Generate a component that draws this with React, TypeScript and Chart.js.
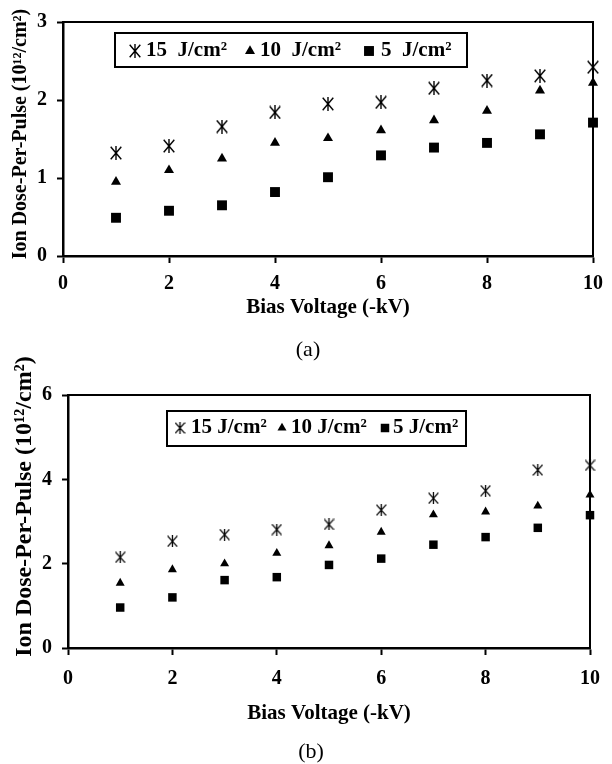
import React, { useEffect, useRef } from 'react';
import { Chart, registerables } from 'chart.js';

Chart.register(...registerables);

// ---------------- data ----------------
const biasVoltage = [1, 2, 3, 4, 5, 6, 7, 8, 9, 10];

const doseA15 = [1.32, 1.41, 1.66, 1.84, 1.95, 1.97, 2.15, 2.25, 2.31, 2.42];
const doseA10 = [0.95, 1.10, 1.25, 1.45, 1.51, 1.61, 1.74, 1.86, 2.12, 2.22];
const doseA5 = [0.49, 0.58, 0.65, 0.82, 1.01, 1.29, 1.39, 1.45, 1.56, 1.71];

const doseB15 = [2.15, 2.53, 2.69, 2.81, 2.93, 3.27, 3.55, 3.73, 4.22, 4.33];
const doseB10 = [1.54, 1.86, 2.00, 2.25, 2.43, 2.75, 3.16, 3.23, 3.37, 3.63];
const doseB5 = [0.96, 1.20, 1.61, 1.68, 1.97, 2.12, 2.45, 2.63, 2.85, 3.15];

const legendLabelsA = ['15  J/cm²', '10  J/cm²', '5  J/cm²'];
const legendLabelsB = ['15 J/cm²', '10 J/cm²', '5 J/cm²'];

const xTitle = 'Bias Voltage (-kV)';
const yTitle = 'Ion Dose-Per-Pulse (10¹²/cm²)';
const captionA = '(a)';
const captionB = '(b)';

const yMaxA = 3;
const yStepA = 1;
const yMaxB = 6;
const yStepB = 2;
const xMax = 10;
const xStep = 2;

// ---------------- helpers ----------------
const SERIF = '"Liberation Serif", "Times New Roman", serif';

function makeAsterisk(w: number, h: number, lw: number) {
  const c = document.createElement('canvas');
  c.width = w;
  c.height = h;
  const ctx = c.getContext('2d') as CanvasRenderingContext2D;
  ctx.strokeStyle = '#000';
  ctx.lineWidth = lw;
  ctx.beginPath();
  const m = lw / 2;
  ctx.moveTo(m, m);
  ctx.lineTo(w - m, h - m);
  ctx.moveTo(w - m, m);
  ctx.lineTo(m, h - m);
  ctx.moveTo(w / 2, 0);
  ctx.lineTo(w / 2, h);
  ctx.stroke();
  return c;
}

function drawMarker(ctx: CanvasRenderingContext2D, style: any, r: number, x: number, y: number) {
  ctx.save();
  ctx.fillStyle = '#000';
  if (style && typeof style === 'object') {
    ctx.drawImage(style, x - style.width / 2, y - style.height / 2, style.width, style.height);
  } else if (style === 'triangle') {
    ctx.beginPath();
    let rad = 0;
    ctx.moveTo(x + Math.sin(rad) * r, y - Math.cos(rad) * r);
    rad += (Math.PI * 2) / 3;
    ctx.lineTo(x + Math.sin(rad) * r, y - Math.cos(rad) * r);
    rad += (Math.PI * 2) / 3;
    ctx.lineTo(x + Math.sin(rad) * r, y - Math.cos(rad) * r);
    ctx.closePath();
    ctx.fill();
  } else {
    const s = Math.SQRT1_2 * r;
    ctx.fillRect(x - s, y - s, 2 * s, 2 * s);
  }
  ctx.restore();
}

const framePlugin = {
  id: 'frame',
  beforeDatasetsDraw(chart: any) {
    const { ctx, chartArea } = chart;
    ctx.save();
    ctx.strokeStyle = '#000';
    ctx.lineWidth = 2;
    ctx.beginPath();
    ctx.moveTo(chartArea.left, chartArea.top);
    ctx.lineTo(chartArea.right, chartArea.top);
    ctx.lineTo(chartArea.right, chartArea.bottom);
    ctx.stroke();
    ctx.restore();
  },
};

const boxLegendPlugin = {
  id: 'boxLegend',
  afterDraw(chart: any, _args: any, opts: any) {
    if (!opts || !opts.box) return;
    const { ctx } = chart;
    const [bx, by, bw, bh] = opts.box;
    ctx.save();
    ctx.fillStyle = '#fff';
    ctx.fillRect(bx, by, bw, bh);
    ctx.strokeStyle = '#000';
    ctx.lineWidth = 2;
    ctx.strokeRect(bx, by, bw, bh);
    ctx.font = opts.font;
    ctx.fillStyle = '#000';
    ctx.textBaseline = 'middle';
    ctx.textAlign = 'left';
    chart.data.datasets.forEach((ds: any, i: number) => {
      drawMarker(ctx, ds.pointStyle, ds.pointRadius, opts.markerX[i], opts.textY);
      ctx.fillStyle = '#000';
      ctx.fillText(ds.label, opts.textX[i], opts.textY);
    });
    ctx.restore();
  },
};

const captionPlugin = {
  id: 'caption',
  afterDraw(chart: any, _args: any, opts: any) {
    if (!opts || !opts.text) return;
    const { ctx, chartArea } = chart;
    ctx.save();
    ctx.font = opts.font;
    ctx.fillStyle = '#000';
    ctx.textAlign = 'center';
    ctx.textBaseline = 'middle';
    ctx.fillText(opts.text, (chartArea.left + chartArea.right) / 2 + opts.dx, chartArea.bottom + opts.dy);
    ctx.restore();
  },
};

interface PanelSpec {
  series: number[][];
  labels: string[];
  yMax: number;
  yStep: number;
  yTitleText: string;
  yTitleSize: number;
  yTitlePad: number;
  yWidth: number;
  xHeight: number;
  xTickPad: number;
  xTitlePadBottom: number;
  yTickPad: number;
  padding: { left: number; right: number; top: number; bottom: number };
  markers: { ast: HTMLCanvasElement; tri: number; sq: number };
  legend: any;
  caption: any;
}

function buildConfig(p: PanelSpec): any {
  const styles: any[] = [p.markers.ast, 'triangle', 'rect'];
  const radii = [6, p.markers.tri, p.markers.sq];
  const datasets = p.series.map((vals, i) => ({
    label: p.labels[i],
    data: vals.map((v, j) => ({ x: biasVoltage[j], y: v })),
    pointStyle: styles[i],
    pointRadius: radii[i],
    pointHoverRadius: radii[i],
    backgroundColor: '#000',
    borderColor: '#000',
    borderWidth: 0,
    showLine: false,
    clip: false,
  }));
  const tickFont = { family: SERIF, size: 20, weight: 'bold' as const };
  return {
    type: 'scatter',
    data: { datasets },
    plugins: [framePlugin, boxLegendPlugin, captionPlugin],
    options: {
      responsive: false,
      animation: false,
      devicePixelRatio: 1,
      layout: { padding: p.padding },
      plugins: {
        legend: { display: false },
        tooltip: { enabled: false },
        title: { display: false },
        boxLegend: p.legend,
        caption: p.caption,
      },
      scales: {
        x: {
          type: 'linear',
          min: 0,
          max: xMax,
          afterFit: (s: any) => {
            s.height = p.xHeight;
          },
          ticks: { stepSize: xStep, color: '#000', font: tickFont, padding: p.xTickPad, maxRotation: 0 },
          grid: {
            display: true,
            drawOnChartArea: false,
            drawTicks: true,
            tickLength: 7,
            tickWidth: 2,
            tickColor: '#000',
          },
          border: { display: true, color: '#000', width: 2.5 },
          title: {
            display: true,
            text: xTitle,
            color: '#000',
            font: { family: SERIF, size: 21, weight: 'bold' },
            padding: { top: 0, bottom: p.xTitlePadBottom },
          },
        },
        y: {
          type: 'linear',
          min: 0,
          max: p.yMax,
          afterFit: (s: any) => {
            s.width = p.yWidth;
          },
          ticks: { stepSize: p.yStep, color: '#000', font: tickFont, padding: p.yTickPad },
          grid: {
            display: true,
            drawOnChartArea: false,
            drawTicks: true,
            tickLength: 6,
            tickWidth: 2,
            tickColor: '#000',
          },
          border: { display: true, color: '#000', width: 2.5 },
          title: {
            display: true,
            text: p.yTitleText,
            color: '#000',
            font: { family: SERIF, size: p.yTitleSize, weight: 'bold' },
            padding: { top: p.yTitlePad, bottom: 0 },
          },
        },
      },
    },
  };
}

function Panel({ spec, width, height, top }: { spec: () => PanelSpec; width: number; height: number; top: number }) {
  const ref = useRef<HTMLCanvasElement | null>(null);
  useEffect(() => {
    if (!ref.current) return;
    const chart = new Chart(ref.current, buildConfig(spec()));
    return () => chart.destroy();
  }, []);
  return (
    <canvas
      ref={ref}
      width={width}
      height={height}
      style={{ display: 'block', position: 'absolute', left: 0, top, width, height }}
    />
  );
}

const specA = (): PanelSpec => ({
  series: [doseA15, doseA10, doseA5],
  labels: legendLabelsA,
  yMax: yMaxA,
  yStep: yStepA,
  yTitleText: '  ' + yTitle,
  yTitleSize: 20,
  yTitlePad: 9,
  yWidth: 63,
  xHeight: 70,
  xTickPad: 9,
  xTitlePadBottom: 6,
  yTickPad: 10,
  padding: { left: 0, right: 11, top: 20, bottom: 46 },
  markers: { ast: makeAsterisk(12, 14, 1.4), tri: 5.8, sq: 7 },
  legend: {
    box: [115, 33, 352, 34],
    markerX: [135, 250, 369],
    textX: [146, 260, 381],
    textY: 51,
    font: 'bold 21px ' + SERIF,
  },
  caption: { text: captionA, dx: -20, dy: 94, font: '22px ' + SERIF },
});

const specB = (): PanelSpec => ({
  series: [doseB15, doseB10, doseB5],
  labels: legendLabelsB,
  yMax: yMaxB,
  yStep: yStepB,
  yTitleText: '     ' + yTitle,
  yTitleSize: 24,
  yTitlePad: 10,
  yWidth: 68,
  xHeight: 80,
  xTickPad: 12,
  xTitlePadBottom: 1.4,
  yTickPad: 10,
  padding: { left: 0, right: 19, top: 63, bottom: 36 },
  markers: { ast: makeAsterisk(11, 12, 1.3), tri: 5.2, sq: 6 },
  legend: {
    box: [167, 79, 299, 35],
    markerX: [180, 282, 385],
    textX: [191, 291, 393],
    textY: 96,
    font: 'bold 21px ' + SERIF,
  },
  caption: { text: captionB, dx: -18, dy: 104, font: '22px ' + SERIF },
});

export default function App() {
  return (
    <div style={{ position: 'absolute', left: 0, top: 0, width: 612, height: 764, background: '#fff' }}>
      <Panel spec={specA} width={612} height={372} top={0} />
      <Panel spec={specB} width={612} height={432} top={332} />
    </div>
  );
}
